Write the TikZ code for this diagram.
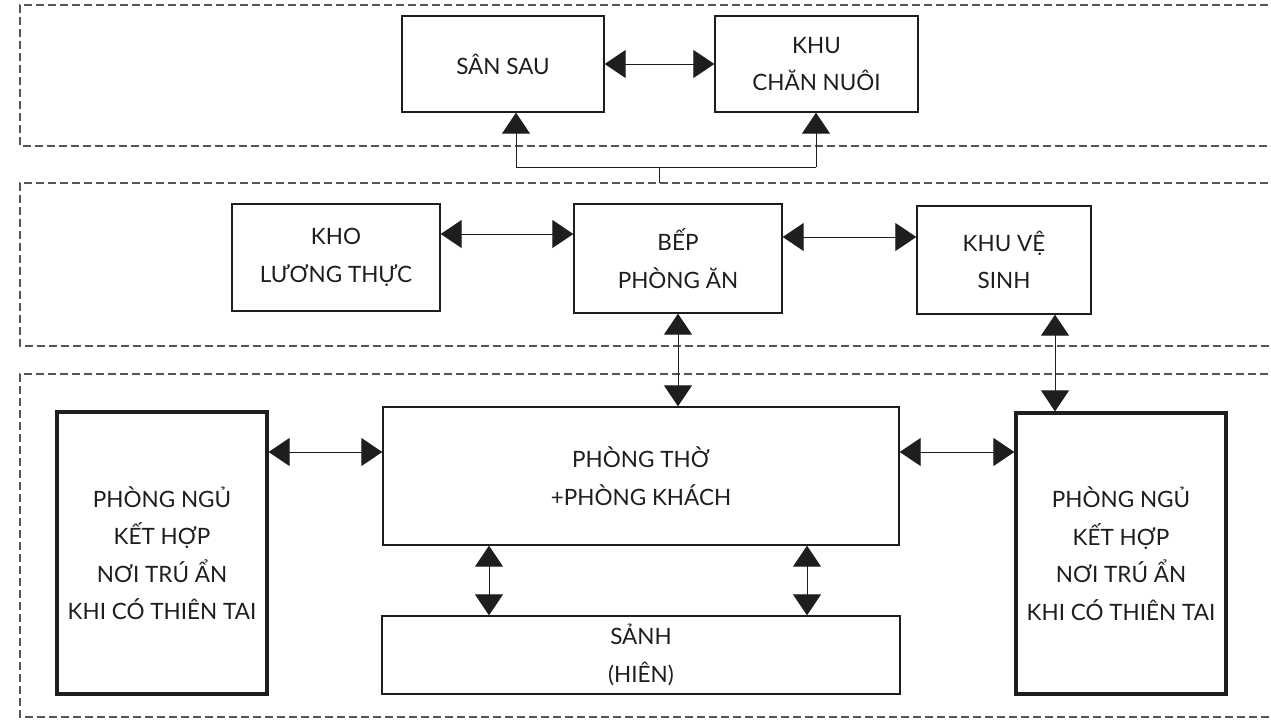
\documentclass[tikz,border=0pt]{standalone}
\usepackage{fontspec}
\setmainfont{Lato}
\usetikzlibrary{arrows.meta}

\definecolor{ink}{HTML}{1E1E1E}
\definecolor{zone}{HTML}{555555}

\tikzset{
  room/.style={draw=ink, line width=1.4pt, inner sep=0pt, align=center,
    text=ink, font=\fontsize{22.5}{37.5}\selectfont},
  bigroom/.style={room, line width=3.2pt},
  zoneline/.style={draw=zone, line width=1.3pt, dash pattern=on 8pt off 4pt},
  link/.style={draw=ink, line width=1pt},
  both/.style={link, {Triangle[length=21pt, width=28pt]}-{Triangle[length=21pt, width=28pt]}},
  single/.style={link, -{Triangle[length=21pt, width=28pt]}}
}

\begin{document}
\begin{tikzpicture}[x=1pt, y=-1pt]
  \useasboundingbox (0,0) rectangle (1271,720);
  \fill[white] (0,0) rectangle (1271,720);

  % dashed zones (open to the right)
  \draw[zoneline] (1280,5) -- (20,5) -- (20,146) -- (1280,146);
  \draw[zoneline] (1280,183) -- (20,183) -- (20,346) -- (1280,346);
  \draw[zoneline] (1280,374) -- (20,374) -- (20,717) -- (1280,717);

  % top zone
  \node[room, minimum width=202pt, minimum height=96pt] (sansau) at (503,64) {SÂN SAU};
  \node[room, minimum width=203pt, minimum height=96pt] (channuoi) at (816.5,64) {KHU\\CHĂN NUÔI};

  % middle zone
  \node[room, minimum width=208pt, minimum height=107pt] (kho) at (336,257.5) {KHO\\LƯƠNG THỰC};
  \node[room, minimum width=208pt, minimum height=109pt] (bep) at (678,258.5) {BẾP\\PHÒNG ĂN};
  \node[room, minimum width=174pt, minimum height=108pt] (vesinh) at (1004,260) {KHU VỆ\\SINH};

  % bottom zone
  \node[room, minimum width=516pt, minimum height=138pt] (phongtho) at (641,476) {PHÒNG THỜ\\+PHÒNG KHÁCH};
  \node[room, minimum width=518pt, minimum height=78pt] (sanh) at (641,655) {SẢNH\\(HIÊN)};
  \node[bigroom, minimum width=210pt, minimum height=282pt] (ngutrai) at (162,553)
    {PHÒNG NGỦ\\KẾT HỢP\\NƠI TRÚ ẨN\\KHI CÓ THIÊN TAI};
  \node[bigroom, minimum width=210pt, minimum height=281pt] (nguphai) at (1121,553.5)
    {PHÒNG NGỦ\\KẾT HỢP\\NƠI TRÚ ẨN\\KHI CÓ THIÊN TAI};

  % top zone links
  \draw[both] (sansau.east) -- (channuoi.west);
  \coordinate (bl) at (516,167);
  \coordinate (br) at (816,167);
  \coordinate (bm) at (659,167);
  \coordinate (bstem) at (659,183);
  \draw[link] (bl) -- (br);
  \draw[link] (bm) -- (bstem);
  \draw[single] (bl) -- (bl |- sansau.south);
  \draw[single] (br) -- (br |- channuoi.south);

  % middle zone links
  \coordinate (rowmid) at (0,234);
  \draw[both] (kho.east |- rowmid) -- (bep.west |- rowmid);
  \coordinate (rowmid2) at (0,237);
  \draw[both] (bep.east |- rowmid2) -- (vesinh.west |- rowmid2);
  \draw[both] (bep.south) -- (phongtho.north -| bep.south);
  \coordinate (vcol) at (1055,0);
  \draw[both] (vcol |- vesinh.south) -- (vcol |- nguphai.north);

  % bottom zone links
  \coordinate (rowpt) at (0,452);
  \draw[both] (ngutrai.east |- rowpt) -- (phongtho.west |- rowpt);
  \draw[both] (phongtho.east |- rowpt) -- (nguphai.west |- rowpt);
  \coordinate (c1) at (489,0);
  \coordinate (c2) at (807,0);
  \draw[both] (c1 |- phongtho.south) -- (c1 |- sanh.north);
  \draw[both] (c2 |- phongtho.south) -- (c2 |- sanh.north);
\end{tikzpicture}
\end{document}
